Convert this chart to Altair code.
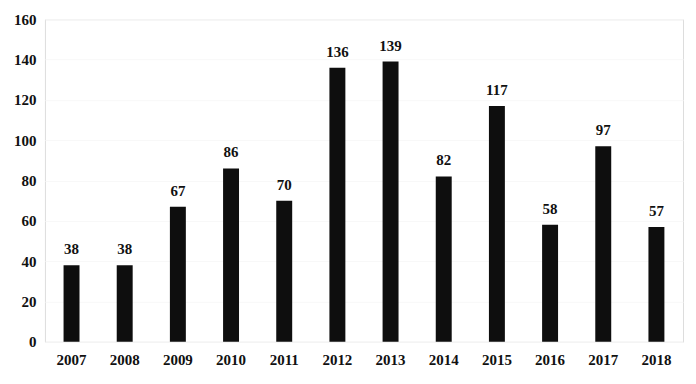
import altair as alt
import pandas as pd

years = ["2007", "2008", "2009", "2010", "2011", "2012", "2013", "2014", "2015", "2016", "2017", "2018"]
values = [38, 38, 67, 86, 70, 136, 139, 82, 117, 58, 97, 57]

df = pd.DataFrame({"year": years, "value": values})

font = "Liberation Serif"

base = alt.Chart(df).encode(
    x=alt.X("year:N", sort=years, title=None,
            scale=alt.Scale(paddingInner=0.7, paddingOuter=0.35),
            axis=alt.Axis(labelAngle=0, ticks=False, domain=False, labelPadding=11,
                          labelFont=font, labelFontSize=15, labelFontWeight="bold",
                          labelColor="#111")),
    y=alt.Y("value:Q", title=None,
            scale=alt.Scale(domain=[0, 160]),
            axis=alt.Axis(values=list(range(0, 161, 20)), ticks=False, domain=False,
                          labelPadding=9, labelFont=font, labelFontSize=15,
                          labelFontWeight="bold", labelColor="#111",
                          grid=True, gridColor="#f8f8f8")),
)

bars = base.mark_bar(color="#0e0e0e")
labels = base.mark_text(dy=-11, baseline="alphabetic", font=font, fontSize=15,
                        fontWeight="bold", color="#111").encode(text="value:Q")

chart = (bars + labels).properties(
    width=639, height=323,
    autosize=alt.AutoSizeParams(type="none"),
    padding={"left": 37, "top": 11, "right": 5, "bottom": 30},
).configure_view(stroke=None).configure(background="white")

chart.save("out.html", embed_options={"renderer": "svg", "actions": False})
